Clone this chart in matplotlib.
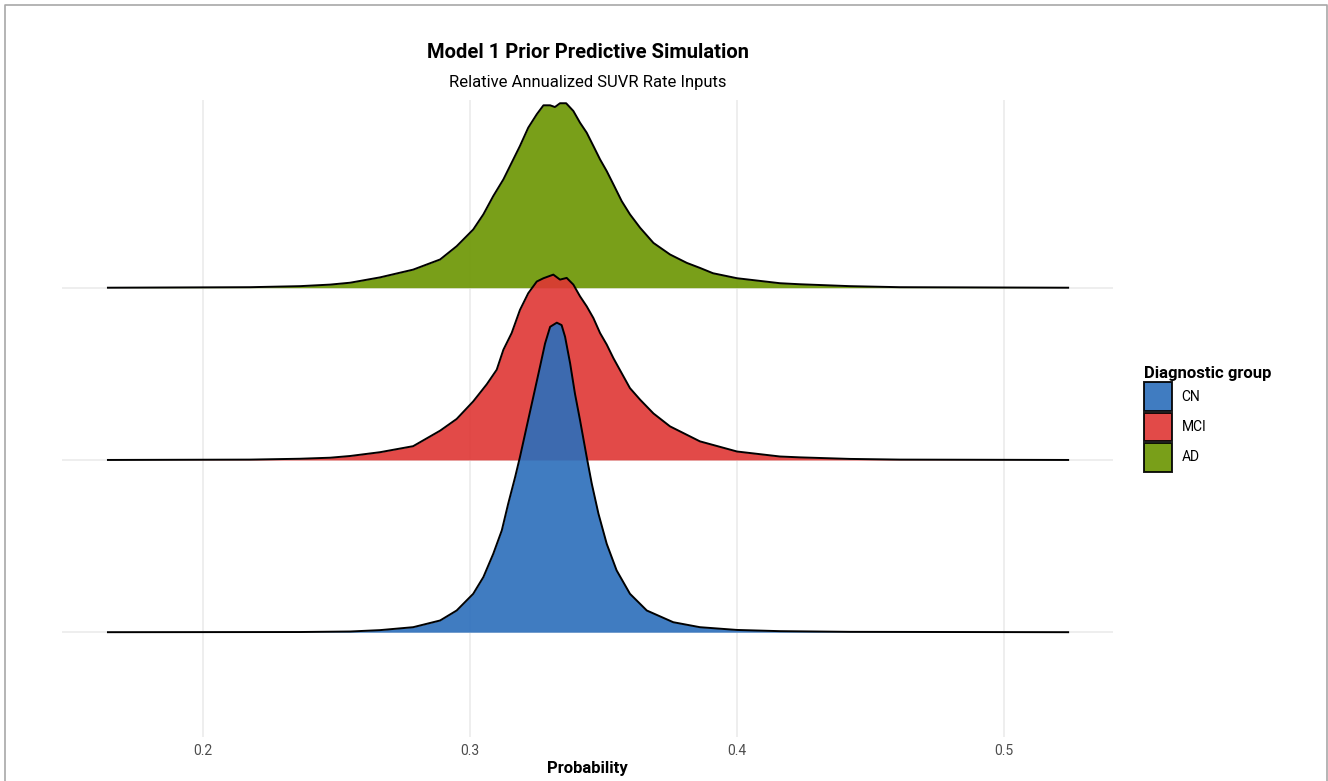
import matplotlib
matplotlib.use("Agg")
import matplotlib.pyplot as plt
from matplotlib.patches import Patch
from matplotlib.lines import Line2D

plt.rcParams['font.family'] = ['Roboto', 'DejaVu Sans']

# groups, bottom row first
groups = ['CN', 'MCI', 'AD']
colors = ['#2b6ebb', '#df3634', '#6b9500']

# scaled densities (height in row units)
cn_x = [0.1644, 0.2363, 0.2551, 0.2663, 0.2787, 0.2888, 0.2950, 0.3012, 0.3050,
        0.3087, 0.3119, 0.3143, 0.3169, 0.3187, 0.3212, 0.3237, 0.3262, 0.3281,
        0.3300, 0.3325, 0.3343, 0.3356, 0.3375, 0.3393, 0.3412, 0.3437, 0.3456,
        0.3481, 0.3512, 0.3549, 0.3599, 0.3662, 0.3761, 0.3861, 0.4000, 0.4161,
        0.4423, 0.5240]
cn_h = [0.0, 0.001, 0.004, 0.012, 0.029, 0.068, 0.126, 0.223, 0.320,
        0.455, 0.591, 0.746, 0.901, 1.017, 1.192, 1.366, 1.541, 1.676,
        1.773, 1.797, 1.783, 1.715, 1.560, 1.385, 1.231, 1.017, 0.862,
        0.688, 0.513, 0.359, 0.223, 0.126, 0.058, 0.029, 0.013, 0.006,
        0.002, 0.0]

mci_x = [0.1644, 0.2176, 0.2363, 0.2476, 0.2551, 0.2663, 0.2787, 0.2888, 0.2950,
         0.3012, 0.3063, 0.3100, 0.3125, 0.3156, 0.3187, 0.3218, 0.3250, 0.3275,
         0.3312, 0.3337, 0.3362, 0.3387, 0.3412, 0.3437, 0.3462, 0.3487, 0.3512,
         0.3537, 0.3568, 0.3599, 0.3637, 0.3687, 0.3749, 0.3861, 0.4000, 0.4161,
         0.4236, 0.4423, 0.4610, 0.5240]
mci_h = [0.0, 0.002, 0.007, 0.013, 0.023, 0.045, 0.080, 0.170, 0.238,
         0.340, 0.440, 0.524, 0.640, 0.737, 0.871, 0.968, 1.036, 1.055,
         1.076, 1.047, 1.057, 1.018, 0.950, 0.892, 0.824, 0.737, 0.670,
         0.591, 0.504, 0.417, 0.350, 0.270, 0.195, 0.108, 0.049, 0.020,
         0.015, 0.006, 0.002, 0.0]

ad_x = [0.1644, 0.2176, 0.2363, 0.2476, 0.2551, 0.2663, 0.2787, 0.2888, 0.2950,
        0.3012, 0.3050, 0.3087, 0.3125, 0.3156, 0.3187, 0.3218, 0.3250, 0.3275,
        0.3300, 0.3318, 0.3337, 0.3360, 0.3387, 0.3412, 0.3437, 0.3462, 0.3487,
        0.3512, 0.3537, 0.3568, 0.3599, 0.3637, 0.3687, 0.3749, 0.3812, 0.3861,
        0.3910, 0.4000, 0.4161, 0.4236, 0.4423, 0.4610, 0.5240]
ad_h = [0.0, 0.003, 0.009, 0.018, 0.029, 0.060, 0.105, 0.164, 0.241,
        0.338, 0.426, 0.532, 0.629, 0.726, 0.823, 0.929, 1.007, 1.059,
        1.059, 1.049, 1.071, 1.071, 1.026, 0.958, 0.900, 0.823, 0.745,
        0.677, 0.600, 0.503, 0.426, 0.348, 0.260, 0.193, 0.144, 0.115,
        0.084, 0.055, 0.026, 0.020, 0.009, 0.003, 0.0]

xticks = [0.2, 0.3, 0.4, 0.5]

fig = plt.figure(figsize=(13.28, 7.81), dpi=100)
ax = fig.add_axes([0.0467, 0.056, 0.7914, 0.816])

curves = [(cn_x, cn_h), (mci_x, mci_h), (ad_x, ad_h)]
# draw top row first so lower rows sit on top
for i in [2, 1, 0]:
    xs, hs = curves[i]
    base = i + 1
    top = [base + h for h in hs]
    ax.fill_between(xs, base, top, color=colors[i], alpha=0.9, lw=0, zorder=3 + (2 - i))
    ax.plot(xs, top, color='black', lw=1.4, zorder=3 + (2 - i), solid_joinstyle='round')

for y in [1, 2, 3]:
    ax.axhline(y, color='#ebebeb', lw=1.2, zorder=1)
for xv in xticks:
    ax.axvline(xv, color='#ebebeb', lw=1.2, zorder=1)

ax.set_xlim(0.1472, 0.5408)
ax.set_ylim(0.39, 4.09)
ax.set_xticks(xticks)
ax.set_xticklabels([str(v) for v in xticks])
ax.set_yticks([])
ax.tick_params(axis='x', length=0, pad=5, labelsize=10, labelcolor='#4d4d4d')
for s in ax.spines.values():
    s.set_visible(False)
ax.set_xlabel('Probability', fontsize=12, fontweight='bold', labelpad=2)

fig.text(0.4425, 0.933, 'Model 1 Prior Predictive Simulation', ha='center', va='center',
         fontsize=14.5, fontweight='bold')
fig.text(0.4425, 0.894, 'Relative Annualized SUVR Rate Inputs', ha='center', va='center',
         fontsize=12)

handles = [Patch(facecolor=colors[i], edgecolor='black', lw=1.4, alpha=0.9) for i in range(3)]
leg = fig.legend(handles, groups, loc='upper left', bbox_to_anchor=(0.852, 0.548),
                 frameon=False, fontsize=10, title='Diagnostic group',
                 title_fontproperties={'weight': 'bold', 'size': 12},
                 handlelength=2.0, handleheight=2.8, labelspacing=0.12,
                 handletextpad=0.7, alignment='left')

# thin grey frame round the picture (top, left, right)
border = Line2D([0.0034, 0.0034, 0.9992, 0.9992], [0.0, 0.9936, 0.9936, 0.0],
                transform=fig.transFigure, color='#a8a8a8', lw=1.2)
fig.add_artist(border)

fig.savefig('out.png', dpi=100)
